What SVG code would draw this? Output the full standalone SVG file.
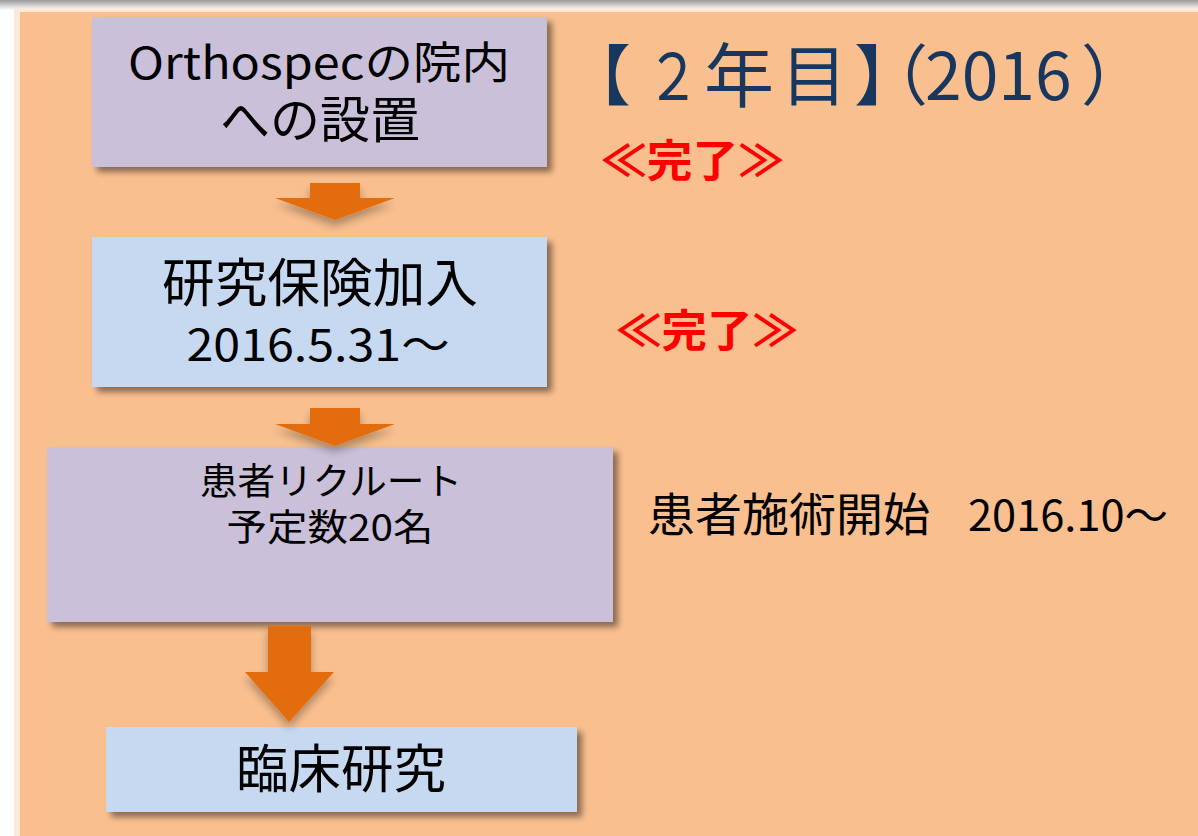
<svg xmlns="http://www.w3.org/2000/svg" width="1198" height="836" viewBox="0 0 1198 836">
<defs>
<style>
.t{font-family:"Noto Sans CJK JP","Noto Sans",sans-serif;fill:#000;text-anchor:middle}
.purple{fill:#CBC0DA}
.blue{fill:#C6D9F0}
.arrow{fill:#E36C0A}
.done{font-family:"Noto Sans CJK JP",sans-serif;font-weight:bold;fill:#FF0000;font-size:44px}
.ttl{font-family:"Noto Sans CJK JP",sans-serif;fill:#17375E}
</style>
<filter id="sh" x="-10%" y="-10%" width="125%" height="130%">
<feGaussianBlur in="SourceAlpha" stdDeviation="3"/>
<feOffset dx="5" dy="5" result="b"/>
<feComponentTransfer><feFuncA type="linear" slope="0.45"/></feComponentTransfer>
<feMerge><feMergeNode/><feMergeNode in="SourceGraphic"/></feMerge>
</filter>
<filter id="ash" x="-30%" y="-30%" width="160%" height="170%">
<feGaussianBlur in="SourceAlpha" stdDeviation="4"/>
<feOffset dx="0" dy="6"/>
<feComponentTransfer><feFuncA type="linear" slope="0.3"/></feComponentTransfer>
<feMerge><feMergeNode/><feMergeNode in="SourceGraphic"/></feMerge>
</filter>
<linearGradient id="topsh" x1="0" y1="0" x2="0" y2="1">
<stop offset="0" stop-color="#9a9a9a"/>
<stop offset="1" stop-color="#ffffff"/>
</linearGradient>
</defs>
<rect x="0" y="0" width="1198" height="836" fill="#ffffff"/>
<rect x="0" y="0" width="1198" height="10" fill="url(#topsh)"/>
<rect x="14" y="8" width="1184" height="828" fill="#FDE9DA"/>
<rect x="20" y="12" width="1178" height="824" fill="#F9BF8F"/>

<g id="node1">
<rect class="purple" x="92" y="17" width="455" height="150" filter="url(#sh)"/>
<text class="t" x="319" y="79" font-size="44" textLength="382" lengthAdjust="spacingAndGlyphs">Orthospecの院内</text>
<text class="t" x="320" y="138" font-size="50" textLength="200" lengthAdjust="spacingAndGlyphs">への設置</text>
</g>
<g id="node2">
<rect class="blue" x="92" y="237" width="455" height="150" filter="url(#sh)"/>
<text class="t" x="320" y="302" font-size="52" textLength="316" lengthAdjust="spacingAndGlyphs">研究保険加入</text>
<text class="t" x="318" y="361" font-size="44" textLength="263" lengthAdjust="spacingAndGlyphs">2016.5.31〜</text>
</g>
<g id="node3">
<rect class="purple" x="47" y="447" width="566" height="175" filter="url(#sh)"/>
<text class="t" x="331" y="495" font-size="37" textLength="262" lengthAdjust="spacingAndGlyphs">患者リクルート</text>
<text class="t" x="330" y="541" font-size="37" textLength="207" lengthAdjust="spacingAndGlyphs">予定数20名</text>
</g>
<g id="node4">
<rect class="blue" x="106" y="727" width="471" height="85" filter="url(#sh)"/>
<text class="t" x="341" y="788" font-size="52" textLength="210" lengthAdjust="spacingAndGlyphs">臨床研究</text>
</g>

<g id="connectors">
<polygon class="arrow" filter="url(#ash)" points="310,183 360,183 360,198 395,198 335,220 275,198 310,198"/>
<polygon class="arrow" filter="url(#ash)" points="310,408 360,408 360,424 395,424 335,446 275,424 310,424"/>
<polygon class="arrow" filter="url(#ash)" points="268,626 311,626 311,672 334,672 289,722 245,672 268,672"/>
</g>

<g id="labels">
<text class="ttl" y="100" font-size="66"><tspan x="565">【</tspan><tspan x="646" font-size="64" textLength="54" lengthAdjust="spacingAndGlyphs">２</tspan><tspan x="704" font-size="70" y="102">年</tspan><tspan x="781" y="100">目</tspan><tspan x="854">】</tspan><tspan x="862">（</tspan><tspan x="925">2016</tspan><tspan x="1081">）</tspan></text>
<text class="done" x="601" y="177" textLength="183" lengthAdjust="spacingAndGlyphs">≪完了≫</text>
<text class="done" x="616" y="347" textLength="182" lengthAdjust="spacingAndGlyphs">≪完了≫</text>
<text x="648" y="531" font-family="Noto Sans CJK JP,sans-serif" font-size="46" fill="#000"><tspan textLength="282" lengthAdjust="spacingAndGlyphs">患者施術開始</tspan><tspan x="968" font-size="42" textLength="200" lengthAdjust="spacingAndGlyphs">2016.10〜</tspan></text>
</g>
</svg>
